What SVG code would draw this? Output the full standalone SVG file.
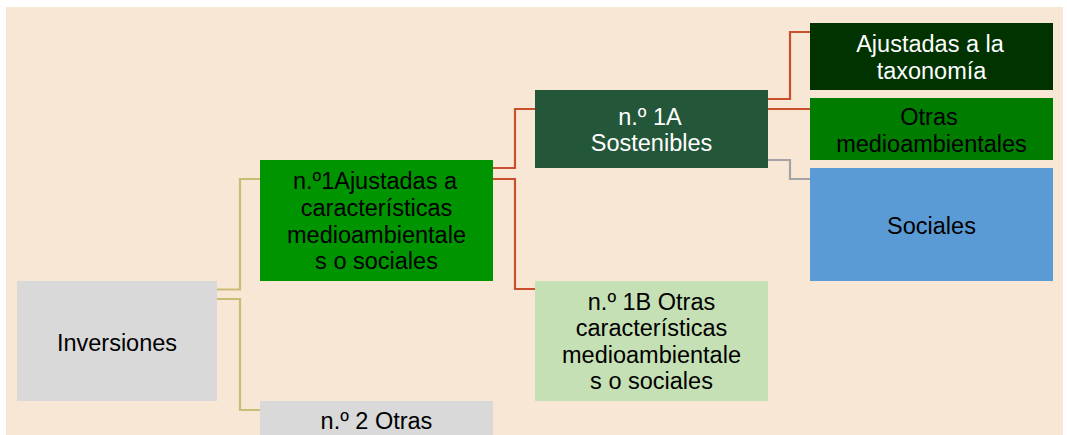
<svg xmlns="http://www.w3.org/2000/svg" width="1067" height="435" viewBox="0 0 1067 435">
<style>
text{font-family:"Liberation Sans",Arial,sans-serif;font-size:23.5px;text-anchor:middle}
.dk{fill:#000}.wt{fill:#fff}
.c{fill:none;stroke-width:2.2}
.kh{stroke:#C9BC74}.rd{stroke:#C9502D}.gy{stroke:#A3A3A3}
</style>
<rect x="0" y="0" width="1067" height="435" fill="#fff"/>
<rect x="6" y="7" width="1057" height="428" fill="#F9E7D5"/>
<g id="connectors">
<path class="c kh" d="M217 289.5H240V179H260"/>
<path class="c kh" d="M217 299H240V410H260"/>
<path class="c rd" d="M493 168H515V109H535"/>
<path class="c rd" d="M493 179H515V289H535"/>
<path class="c rd" d="M768 99H790V32H810"/>
<path class="c rd" d="M768 109H810"/>
<path class="c gy" d="M768 160H790V179H810"/>
</g>
<g id="inversiones"><rect x="17" y="281" width="200" height="120" fill="#D9D9D9"/><text class="dk" x="117" y="351">Inversiones</text></g>
<g id="n1"><rect x="260" y="160" width="233" height="121" fill="#009400"/>
<text class="dk" x="375" y="189">n.º1Ajustadas a</text><text class="dk" x="376.5" y="216">características</text><text class="dk" x="376.5" y="242.5">medioambientale</text><text class="dk" x="376.5" y="269">s o sociales</text></g>
<g id="n1a"><rect x="535" y="90" width="233" height="78" fill="#24563A"/>
<text class="wt" x="650" y="124.5">n.º 1A</text><text class="wt" x="651.5" y="151">Sostenibles</text></g>
<g id="n1b"><rect x="535" y="281" width="233" height="120" fill="#C5E0B4"/>
<text class="dk" x="651.5" y="309.5">n.º 1B Otras</text><text class="dk" x="651.5" y="336">características</text><text class="dk" x="651.5" y="362.5">medioambientale</text><text class="dk" x="651.5" y="389">s o sociales</text></g>
<g id="n2"><rect x="260" y="401" width="233" height="40" fill="#D9D9D9"/><text class="dk" x="376.5" y="429">n.º 2 Otras</text></g>
<g id="taxonomia"><rect x="810" y="23" width="243" height="67" fill="#003300"/>
<text class="wt" x="930" y="52">Ajustadas a la</text><text class="wt" x="931.5" y="78.5">taxonomía</text></g>
<g id="otras"><rect x="810" y="98" width="243" height="62" fill="#007D00"/>
<text class="dk" x="929" y="125">Otras</text><text class="dk" x="931.5" y="151.5">medioambientales</text></g>
<g id="sociales"><rect x="810" y="168" width="243" height="113" fill="#5B9BD5"/><text class="dk" x="931.5" y="234">Sociales</text></g>
</svg>
